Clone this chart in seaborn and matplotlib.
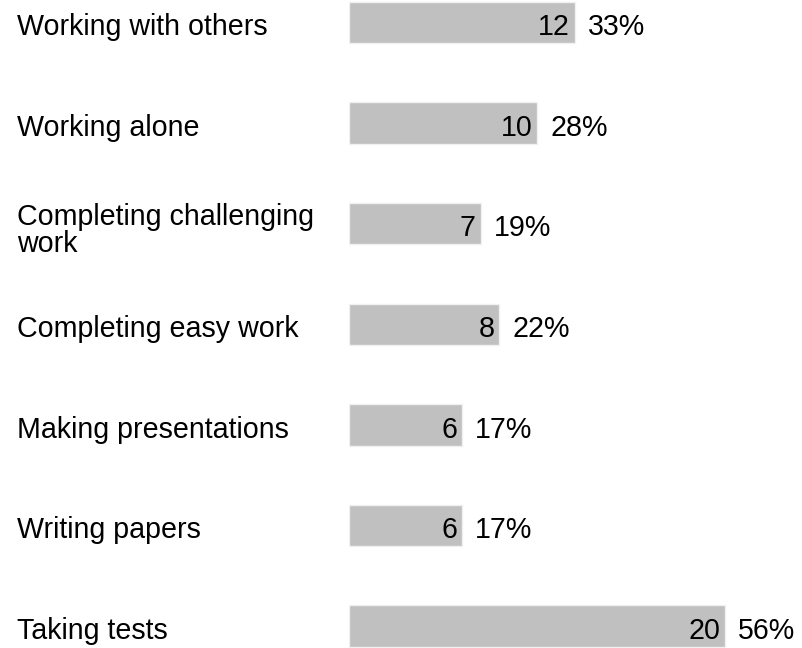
import matplotlib
matplotlib.use("Agg")
import matplotlib.pyplot as plt
import seaborn as sns
import pandas as pd

categories = ["Working with others", "Working alone", "Completing challenging\nwork",
              "Completing easy work", "Making presentations", "Writing papers", "Taking tests"]
counts = [12, 10, 7, 8, 6, 6, 20]
percents = ["33%", "28%", "19%", "22%", "17%", "17%", "56%"]

df = pd.DataFrame({"category": categories, "count": counts})

sns.set_theme(style="white")
plt.rcParams["font.family"] = ["Liberation Sans", "DejaVu Sans"]

W, H = 803, 648
fig = plt.figure(figsize=(W / 100, H / 100), dpi=100)
left_px = 349
ax = fig.add_axes([left_px / W, 0, (W - left_px) / W, 1])

sns.barplot(data=df, x="count", y="category", orient="h", color="#c0c0c0",
            saturation=1, width=0.41, edgecolor="#f0f0f0", linewidth=1, ax=ax)

px_per_unit = 18.8
ax.set_xlim(0, (W - left_px) / px_per_unit)
pitch = 100.6
top_c = 22.5
ax.set_ylim((H - top_c) / pitch, -top_c / pitch)

ax.set_xticks([])
ax.set_yticks([])
ax.set_xlabel("")
ax.set_ylabel("")
for s in ax.spines.values():
    s.set_visible(False)

fs = 20.6
base_off = -9.2  # points below bar centre for the text baseline
for i, (cat, v, p) in enumerate(zip(categories, counts, percents)):
    ax.annotate(str(v), (v, i), xytext=(-3.5, base_off), textcoords="offset points",
                ha="right", va="baseline", fontsize=fs, color="black")
    ax.annotate(p, (v, i), xytext=(9.5, base_off), textcoords="offset points",
                ha="left", va="baseline", fontsize=fs, color="black")
    if "\n" in cat:
        ax.annotate(cat, (17 / W, i), xycoords=("figure fraction", "data"),
                    xytext=(0, -5), textcoords="offset points",
                    ha="left", va="center", fontsize=fs, color="black", linespacing=0.97)
    else:
        ax.annotate(cat, (17 / W, i), xycoords=("figure fraction", "data"),
                    xytext=(0, base_off), textcoords="offset points",
                    ha="left", va="baseline", fontsize=fs, color="black")

fig.savefig("out.png", dpi=100)
